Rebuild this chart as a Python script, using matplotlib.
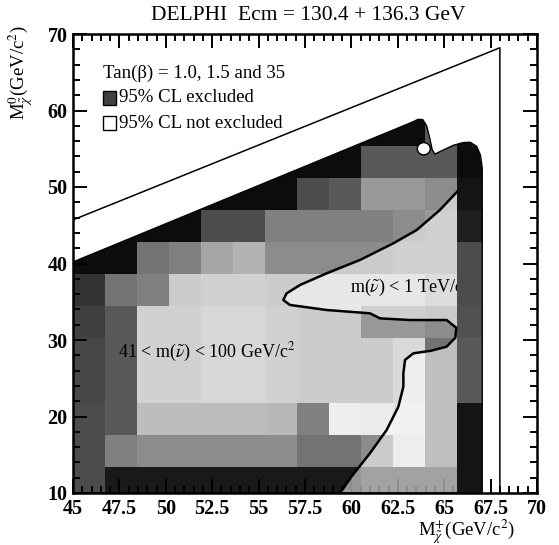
import numpy as np
import matplotlib
matplotlib.use('Agg')
import matplotlib.pyplot as plt
from matplotlib.patches import Polygon, Rectangle, Ellipse

plt.rcParams['font.family'] = ['Liberation Serif', 'DejaVu Serif']
plt.rcParams['mathtext.fontset'] = 'stix'

# ---------------- data ----------------
# cell grid edges (GeV/c^2)
x_edges = [45.0, 46.725, 48.45, 50.175, 51.9, 53.625, 55.35, 57.075,
           58.8, 60.525, 62.25, 63.975, 65.7, 67.425]
y_edges = [9.2, 13.4, 17.6, 21.8, 26.0, 30.2, 34.4, 38.6, 42.8, 47.0,
           51.2, 55.4, 59.6]

# grey level of each cell (0 = black, 1 = white), rows from bottom to top
gray_r0 = [0.30, 0.10, 0.10, 0.10, 0.10, 0.10, 0.10, 0.10, 0.10, 0.20, 0.20, 0.20, 0.08]
gray_r1 = [0.30, 0.50, 0.55, 0.55, 0.55, 0.55, 0.55, 0.45, 0.45, 0.55, 0.85, 0.45, 0.08]
gray_r2 = [0.30, 0.35, 0.74, 0.74, 0.74, 0.74, 0.72, 0.50, 0.93, 0.92, 0.88, 0.45, 0.08]
gray_r3 = [0.28, 0.35, 0.82, 0.82, 0.84, 0.84, 0.82, 0.80, 0.80, 0.80, 0.85, 0.45, 0.35]
gray_r4 = [0.28, 0.35, 0.82, 0.82, 0.84, 0.84, 0.82, 0.80, 0.80, 0.80, 0.85, 0.45, 0.35]
gray_r5 = [0.25, 0.35, 0.82, 0.82, 0.84, 0.84, 0.82, 0.80, 0.80, 0.60, 0.60, 0.55, 0.32]
gray_r6 = [0.20, 0.45, 0.50, 0.80, 0.82, 0.82, 0.80, 0.80, 0.80, 0.80, 0.80, 0.70, 0.30]
gray_r7 = [0.05, 0.05, 0.45, 0.50, 0.65, 0.70, 0.55, 0.55, 0.55, 0.55, 0.60, 0.60, 0.30]
gray_r8 = [0.05, 0.05, 0.05, 0.05, 0.30, 0.30, 0.50, 0.50, 0.50, 0.50, 0.55, 0.60, 0.12]
gray_r9 = [0.05, 0.05, 0.05, 0.05, 0.05, 0.05, 0.05, 0.30, 0.35, 0.60, 0.60, 0.55, 0.08]
gray_r10 = [0.05, 0.05, 0.05, 0.05, 0.05, 0.05, 0.05, 0.05, 0.05, 0.35, 0.35, 0.35, 0.05]
gray_r11 = [0.05, 0.05, 0.05, 0.05, 0.05, 0.05, 0.05, 0.05, 0.05, 0.05, 0.05, 0.35, 0.05]

# outline of the scanned (excluded) region
excl_x = [45.0, 45.0, 63.30, 63.60, 63.85, 64.05, 64.20, 64.35, 64.50, 65.00,
          65.50, 66.00, 66.40, 66.75, 66.95, 67.05, 67.05]
excl_y = [10.0, 40.2, 58.50, 58.85, 58.80, 58.00, 56.60, 54.90, 54.30, 54.90,
          55.45, 55.80, 55.85, 55.30, 54.20, 52.50, 10.0]

# small island inside the excluded band
island_x, island_y = 63.9, 55.0

# contour of the m(sneutrino) < 1 TeV region
cont_x = [65.70, 64.77, 63.52, 62.26, 60.46, 58.67, 57.23, 56.51, 56.33, 56.69,
          58.67, 61.00, 61.54, 63.16, 65.13, 65.65, 65.60, 65.13, 64.30, 63.34,
          62.89, 62.80, 62.80, 62.53, 61.90, 61.00, 60.00, 59.39]
cont_y = [49.39, 47.00, 44.38, 42.64, 40.46, 38.72, 37.19, 36.10, 35.23, 34.58,
          33.92, 33.49, 32.83, 32.61, 32.61, 31.60, 30.30, 29.13, 28.60, 28.26,
          27.40, 25.65, 23.90, 21.28, 18.24, 15.20, 12.13, 10.00]

# kinematic limit line
kin_x = [45.0, 68.0, 68.0]
kin_y = [45.7, 68.2, 10.0]

x_ticks = [45, 47.5, 50, 52.5, 55, 57.5, 60, 62.5, 65, 67.5, 70]
x_ticklabels = ['45', '47.5', '50', '52.5', '55', '57.5', '60', '62.5', '65', '67.5', '70']
y_ticks = [10, 20, 30, 40, 50, 60, 70]

# ---------------- figure ----------------
fig = plt.figure(figsize=(5.59, 5.45), dpi=100)
ax = fig.add_axes([73 / 559, 52 / 545, 464 / 559, 459 / 545])
ax.set_xlim(45, 70)
ax.set_ylim(10, 70)

gray = np.array([gray_r0, gray_r1, gray_r2, gray_r3, gray_r4, gray_r5,
                 gray_r6, gray_r7, gray_r8, gray_r9, gray_r10, gray_r11])
excl_xy = np.column_stack([excl_x, excl_y])

# main cells, plus the last column redrawn above the annotation text
mesh = ax.pcolormesh(x_edges[:-1], y_edges, gray[:, :-1], cmap='gray',
                     vmin=0, vmax=1, shading='flat', zorder=1)
mesh.set_clip_path(Polygon(excl_xy, closed=True, transform=ax.transData))
mesh2 = ax.pcolormesh(x_edges[-2:], y_edges, gray[:, -1:], cmap='gray',
                      vmin=0, vmax=1, shading='flat', zorder=3.5)
mesh2.set_clip_path(Polygon(excl_xy, closed=True, transform=ax.transData))

ax.add_patch(Polygon(excl_xy, closed=True, fill=False, ec='black', lw=1.0,
                     zorder=4))

# not-excluded region (lighter)
wx = cont_x + [65.70]
wy = cont_y + [10.0]
ax.add_patch(Polygon(np.column_stack([wx, wy]), closed=True, fc='white',
                     ec='none', alpha=0.55, zorder=2))
ax.plot(cont_x, cont_y, color='black', lw=1.8, zorder=5)

ax.add_patch(Ellipse((island_x, island_y), 0.7, 1.6, fc='white', ec='black',
                     lw=1.0, zorder=5))

ax.plot(kin_x, kin_y, color='black', lw=1.1, zorder=5)

# annotations
ax.text(59.9, 36.9, r'm($\tilde{\nu}$) < 1 TeV/c$^2$', fontsize=13,
        va='center', ha='left', zorder=3)
ax.text(47.4, 28.4, r'41 < m($\tilde{\nu}$) < 100 GeV/c$^2$', fontsize=13,
        va='center', ha='left', zorder=3)

# legend
ax.text(0.065, 0.915, 'Tan(β) = 1.0, 1.5 and 35', transform=ax.transAxes,
        fontsize=13.5, va='center', ha='left')
ax.add_patch(Rectangle((0.064, 0.845), 0.028, 0.031, transform=ax.transAxes,
                       fc='0.25', ec='black', lw=1.0, zorder=6))
ax.text(0.100, 0.861, '95% CL excluded', transform=ax.transAxes,
        fontsize=13.5, va='center', ha='left')
ax.add_patch(Rectangle((0.064, 0.791), 0.028, 0.031, transform=ax.transAxes,
                       fc='white', ec='black', lw=1.0, zorder=6))
ax.text(0.100, 0.806, '95% CL not excluded', transform=ax.transAxes,
        fontsize=13.5, va='center', ha='left')

# axes styling
ax.set_xticks(x_ticks)
ax.set_xticklabels(x_ticklabels)
ax.set_yticks(y_ticks)
ax.set_xticks(np.arange(45, 70.01, 0.5), minor=True)
ax.set_yticks(np.arange(10, 70.01, 2), minor=True)
ax.tick_params(which='both', direction='in', top=True, right=True,
               labelsize=14.5, width=1.4, pad=4)
ax.tick_params(which='major', length=10)
ax.tick_params(which='minor', length=5)
for lab in ax.get_xticklabels() + ax.get_yticklabels():
    lab.set_fontweight('bold')
for s in ax.spines.values():
    s.set_linewidth(1.8)

fig.text(308 / 559, 0.971, 'DELPHI  Ecm = 130.4 + 136.3 GeV', fontsize=15.5,
         ha='center', va='center')
fig.text(467 / 559, 0.024, r'M$_{\tilde{\chi}}^{+}$(GeV/c$^{2}$)', fontsize=13.5,
         ha='center', va='center')
fig.text(21 / 559, (545 - 73) / 545, r'M$_{\tilde{\chi}}^{0}$(GeV/c$^{2}$)',
         fontsize=13.5, ha='center', va='center', rotation=90)

fig.savefig('out.png', dpi=100)
